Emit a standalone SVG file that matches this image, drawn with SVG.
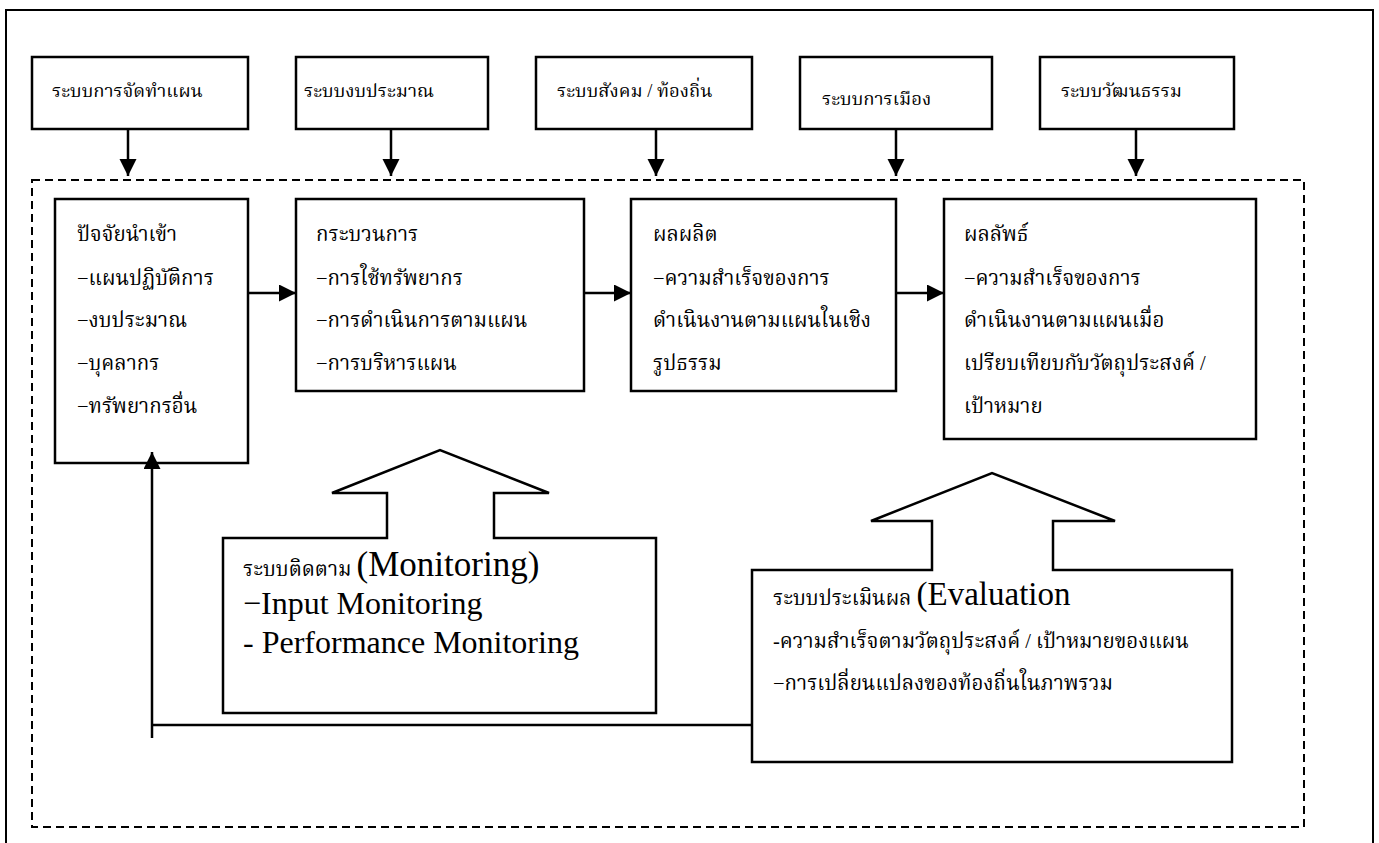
<svg xmlns="http://www.w3.org/2000/svg" width="1379" height="843" viewBox="0 0 1379 843">
  <style>
    .frame{fill:none;stroke:#000;stroke-width:2}
    .box{fill:#fff;stroke:#000;stroke-width:2.5}
    .dash{fill:none;stroke:#000;stroke-width:2;stroke-dasharray:8 5}
    .line{fill:none;stroke:#000;stroke-width:2.5}
    .th{font-family:"Liberation Serif","Noto Serif Thai","Norasi","Kinnari","DejaVu Serif",serif;font-size:20.5px;fill:#000}
    .tt{font-size:18.5px}
    .en{font-family:"Liberation Serif",serif;fill:#000}
  </style>
  <defs>
    <marker id="ahb" markerWidth="18" markerHeight="18" refX="17" refY="8.5" orient="auto" markerUnits="userSpaceOnUse">
      <path d="M0,0 L17,8.5 L0,17 Z" fill="#000"/>
    </marker>
  </defs>
  <rect width="1379" height="843" fill="#fff"/>
  <rect class="frame" x="6" y="10" width="1367" height="850"/>
  <rect class="dash" x="32" y="180" width="1272" height="647"/>

  <g id="top1"><rect class="box" x="32" y="57" width="216" height="72"/><text class="th tt" x="52" y="97">ระบบการจัดทำแผน</text></g>
  <g id="top2"><rect class="box" x="296" y="57" width="192" height="72"/><text class="th tt" x="304" y="97">ระบบงบประมาณ</text></g>
  <g id="top3"><rect class="box" x="536" y="57" width="216" height="72"/><text class="th tt" x="557" y="97">ระบบสังคม / ท้องถิ่น</text></g>
  <g id="top4"><rect class="box" x="800" y="57" width="192" height="72"/><text class="th tt" x="822" y="105">ระบบการเมือง</text></g>
  <g id="top5"><rect class="box" x="1040" y="57" width="194" height="72"/><text class="th tt" x="1061" y="97">ระบบวัฒนธรรม</text></g>

  <g id="input"><rect class="box" x="55" y="199" width="193" height="264"/>
    <text class="th" x="77" y="241">ปัจจัยนำเข้า</text>
    <text class="th" x="77" y="285">−แผนปฏิบัติการ</text>
    <text class="th" x="77" y="327">−งบประมาณ</text>
    <text class="th" x="77" y="370">−บุคลากร</text>
    <text class="th" x="77" y="413">−ทรัพยากรอื่น</text>
  </g>
  <g id="process"><rect class="box" x="296" y="199" width="288" height="192"/>
    <text class="th" x="316" y="241">กระบวนการ</text>
    <text class="th" x="316" y="285">−การใช้ทรัพยากร</text>
    <text class="th" x="316" y="327">−การดำเนินการตามแผน</text>
    <text class="th" x="316" y="370">−การบริหารแผน</text>
  </g>
  <g id="output"><rect class="box" x="631" y="199" width="265" height="192"/>
    <text class="th" x="653" y="241">ผลผลิต</text>
    <text class="th" x="653" y="285">−ความสำเร็จของการ</text>
    <text class="th" x="653" y="327">ดำเนินงานตามแผนในเชิง</text>
    <text class="th" x="653" y="370">รูปธรรม</text>
  </g>
  <g id="outcome"><rect class="box" x="944" y="199" width="312" height="240"/>
    <text class="th" x="964" y="241">ผลลัพธ์</text>
    <text class="th" x="964" y="285">−ความสำเร็จของการ</text>
    <text class="th" x="964" y="327">ดำเนินงานตามแผนเมื่อ</text>
    <text class="th" x="964" y="370">เปรียบเทียบกับวัตถุประสงค์ /</text>
    <text class="th" x="964" y="413">เป้าหมาย</text>
  </g>

  <g id="monitoring">
    <polygon class="box" points="223,538 387,538 387,493 332,493 440,450 549,493 494,493 494,538 656,538 656,713 223,713"/>
    <text class="th" x="243" y="576" font-size="18">ระบบติดตาม <tspan class="en" font-size="35">(Monitoring)</tspan></text>
    <text class="en" x="243" y="614" font-size="32">−Input Monitoring</text>
    <text class="en" x="243" y="653" font-size="32">- Performance Monitoring</text>
  </g>
  <g id="evaluation">
    <polygon class="box" points="752,570 932,570 932,521 871,521 992,473 1115,521 1053,521 1053,570 1232,570 1232,762 752,762"/>
    <text class="th" x="773" y="605">ระบบประเมินผล <tspan class="en" font-size="33">(Evaluation</tspan></text>
    <text class="th" x="773" y="648">-ความสำเร็จตามวัตถุประสงค์ / เป้าหมายของแผน</text>
    <text class="th" x="773" y="690">−การเปลี่ยนแปลงของท้องถิ่นในภาพรวม</text>
  </g>

  <g id="connectors">
    <line class="line" x1="128" y1="129" x2="128" y2="176" marker-end="url(#ahb)"/>
    <line class="line" x1="391" y1="129" x2="391" y2="176" marker-end="url(#ahb)"/>
    <line class="line" x1="656" y1="129" x2="656" y2="176" marker-end="url(#ahb)"/>
    <line class="line" x1="896" y1="129" x2="896" y2="176" marker-end="url(#ahb)"/>
    <line class="line" x1="1136" y1="129" x2="1136" y2="176" marker-end="url(#ahb)"/>
    <line class="line" x1="248" y1="293" x2="296" y2="293" marker-end="url(#ahb)"/>
    <line class="line" x1="584" y1="293" x2="631" y2="293" marker-end="url(#ahb)"/>
    <line class="line" x1="896" y1="293" x2="944" y2="293" marker-end="url(#ahb)"/>
    <polyline class="line" points="752,725 152,725"/>
    <line class="line" x1="152" y1="738" x2="152" y2="452" marker-end="url(#ahb)"/>
  </g>
</svg>
